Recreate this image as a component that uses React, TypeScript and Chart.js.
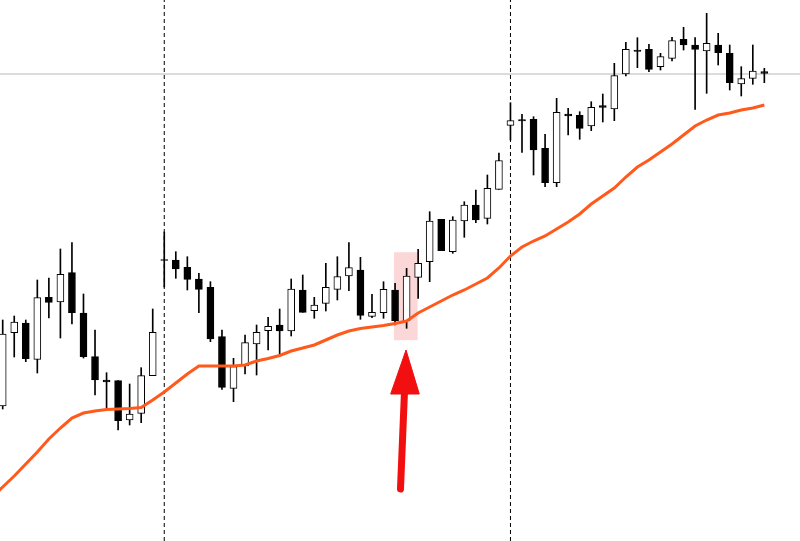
import React, { useEffect, useRef } from 'react';
import { Chart, registerables } from 'chart.js';

Chart.register(...registerables);

// Price data (arbitrary price units), one entry per bar
const OPEN = [
  135, 208.3, 218, 181.7, 243.7, 239, 268.3, 228, 184.3, 161, 160.3, 121, 127.7, 165.3,
  281.5, 281, 273.7, 262, 253.7, 204.3, 152.7, 175, 197, 210.3, 216, 210, 251, 230.3, 237.7,
  251.7, 265, 271, 224.7, 228.3, 251, 220.3, 263.7, 279.3, 321.7, 289.3, 320, 336, 322.7, 351.7,
  415.7, 421.5, 421.7, 392.7, 358.3, 427, 425.7, 415, 435.5, 432, 467, 491, 491.7, 474.3, 482.7,
  501.7, 496, 490, 496, 487.7, 457, 462.7, 469.3,
];
const HIGH = [
  221, 225, 221, 261, 263, 292, 298.3, 247, 211, 168.3, 160.3, 157, 173.3, 232,
  309, 289.3, 284.3, 267.7, 259.3, 211, 182.7, 206, 216, 223.7, 232, 262, 266, 243.7, 277.7,
  284.3, 298.3, 283.7, 246.7, 259.3, 257.7, 272.7, 291.7, 329.3, 321.7, 324.3, 339.3, 351, 366, 388,
  438.3, 426.7, 424.3, 406.7, 442.7, 432.7, 429.3, 439.3, 447, 477.7, 498.7, 503.3, 496.7, 487.7, 503.7,
  513.7, 503.3, 527.7, 507.7, 496, 474.3, 496, 472.7,
];
const LOW = [
  132, 184, 179.3, 168, 223, 203, 217, 183, 146, 131, 111, 116, 118.3, 165.3,
  254, 262.7, 251, 228.3, 199.3, 151.7, 139.3, 167, 166, 191, 185, 205, 228.7, 222.7, 230,
  241, 250.3, 221.7, 223.3, 222.7, 216, 212.7, 242.7, 259.3, 290.3, 287.7, 303.7, 318.3, 317, 351.7,
  401, 388.7, 366, 354.3, 354.3, 406, 401.7, 410.3, 419, 420.3, 465, 473.3, 469.3, 471, 480,
  491, 431.7, 447.7, 476, 451, 445, 456.7, 458.3,
];
const CLOSE = [
  207, 219, 182.3, 243.3, 238.7, 266.7, 228.3, 184.3, 161, 159, 120.3, 127, 165.3, 208.7,
  280.5, 272, 261.7, 251.7, 202, 153.7, 174.3, 198.3, 208.7, 214.7, 210, 252, 228.7, 236, 253.7,
  264.3, 273.3, 225.7, 228.7, 251.7, 220.3, 265, 277.7, 320, 290.3, 321, 336, 321, 352.7, 380.5,
  420.3, 420, 391, 358.3, 428.7, 425, 412.7, 433.7, 433.7, 465.3, 491.7, 489.5, 471.7, 484.3, 500.3,
  496, 491.7, 497.7, 488.3, 458.3, 462.3, 470, 467.7,
];
// Moving average, starting one bar before the first visible candle
const MA_START = -1;
const MA = [
  43, 54, 65, 77, 89, 102, 113, 123, 128, 130, 131.5, 132, 132.5, 133.5, 141,
  149, 158, 167, 175, 175, 175, 175, 176, 180, 182.5, 185.5, 190, 193, 196, 201,
  206, 210, 212.5, 214, 215.5, 217.5, 220, 228, 234, 240, 246, 251, 257, 263, 273,
  285, 294, 300, 305, 312, 319, 327, 337, 345, 353, 364, 374, 381, 389, 397,
  406, 415, 421, 426, 428, 431, 433, 436,
];

const SESSION_BREAKS = [14, 44];
const REFERENCE_LEVEL = 467;
const HIGHLIGHT_CENTER = 34.93;
const HIGHLIGHT_RANGE = [201, 288.3];
const ARROW_HEAD = [
  { x: 33.62, y: 147 },
  { x: 34.95, y: 191 },
  { x: 36.1, y: 147 },
  { x: 33.62, y: 147 },
];
const ARROW_SHAFT = [
  { x: 34.82, y: 150 },
  { x: 34.47, y: 52 },
];

const X_MIN = -0.234;
const X_MAX = 69.09;
const Y_MIN = 0;
const Y_MAX = 541;

export default function App() {
  const ref = useRef<HTMLCanvasElement | null>(null);

  useEffect(() => {
    document.body.style.margin = '0';
    document.body.style.background = '#ffffff';
    const canvas = ref.current;
    if (!canvas) return;

    const idx = OPEN.map((_, i) => i);
    const datasets: any[] = [];

    datasets.push({
      type: 'bar',
      data: [{ x: HIGHLIGHT_CENTER, y: HIGHLIGHT_RANGE }],
      backgroundColor: '#fcd7d7',
      borderWidth: 0,
      barThickness: 23,
      grouped: false,
      order: 10,
    });

    datasets.push({
      type: 'line',
      data: [
        { x: X_MIN, y: REFERENCE_LEVEL },
        { x: X_MAX, y: REFERENCE_LEVEL },
      ],
      borderColor: '#b8b8b8',
      borderWidth: 1,
      pointRadius: 0,
      fill: false,
      order: 9,
    });

    SESSION_BREAKS.forEach((b) => {
      datasets.push({
        type: 'line',
        data: [
          { x: b, y: Y_MIN },
          { x: b, y: Y_MAX },
        ],
        borderColor: '#000000',
        borderWidth: 1,
        borderDash: [4, 3],
        pointRadius: 0,
        fill: false,
        order: 8,
      });
    });

    datasets.push({
      type: 'bar',
      data: idx.map((i) => ({ x: i, y: [LOW[i], HIGH[i]] })),
      backgroundColor: '#000000',
      borderWidth: 0,
      barThickness: 1,
      grouped: false,
      order: 5,
    });

    datasets.push({
      type: 'bar',
      data: idx.map((i) => ({ x: i, y: [OPEN[i], CLOSE[i]] })),
      backgroundColor: idx.map((i) => (CLOSE[i] > OPEN[i] ? '#ffffff' : '#000000')),
      borderColor: '#000000',
      borderWidth: 1,
      borderSkipped: false,
      barThickness: 7,
      grouped: false,
      order: 4,
    });

    datasets.push({
      type: 'line',
      data: MA.map((v, k) => ({ x: MA_START + k, y: v })),
      borderColor: '#ff5a1c',
      borderWidth: 3,
      pointRadius: 0,
      tension: 0,
      fill: false,
      order: 3,
    });

    datasets.push({
      type: 'line',
      data: ARROW_SHAFT,
      borderColor: '#f20f0f',
      borderWidth: 7,
      borderCapStyle: 'round',
      pointRadius: 0,
      fill: false,
      order: 2,
    });

    datasets.push({
      type: 'line',
      data: ARROW_HEAD,
      borderColor: '#f20f0f',
      backgroundColor: '#f20f0f',
      borderWidth: 1,
      pointRadius: 0,
      fill: 'shape',
      order: 1,
    });

    const chart = new Chart(canvas, {
      type: 'bar',
      data: { datasets },
      options: {
        animation: false,
        responsive: false,
        devicePixelRatio: 1,
        events: [],
        layout: { padding: 0 },
        plugins: {
          legend: { display: false },
          tooltip: { enabled: false },
        },
        scales: {
          x: {
            type: 'linear',
            display: false,
            min: X_MIN,
            max: X_MAX,
            offset: false,
          },
          y: {
            type: 'linear',
            display: false,
            min: Y_MIN,
            max: Y_MAX,
          },
        },
      } as any,
    });

    return () => chart.destroy();
  }, []);

  return (
    <div style={{ width: 800, height: 541 }}>
      <canvas ref={ref} width={800} height={541} style={{ display: 'block' }} />
    </div>
  );
}
